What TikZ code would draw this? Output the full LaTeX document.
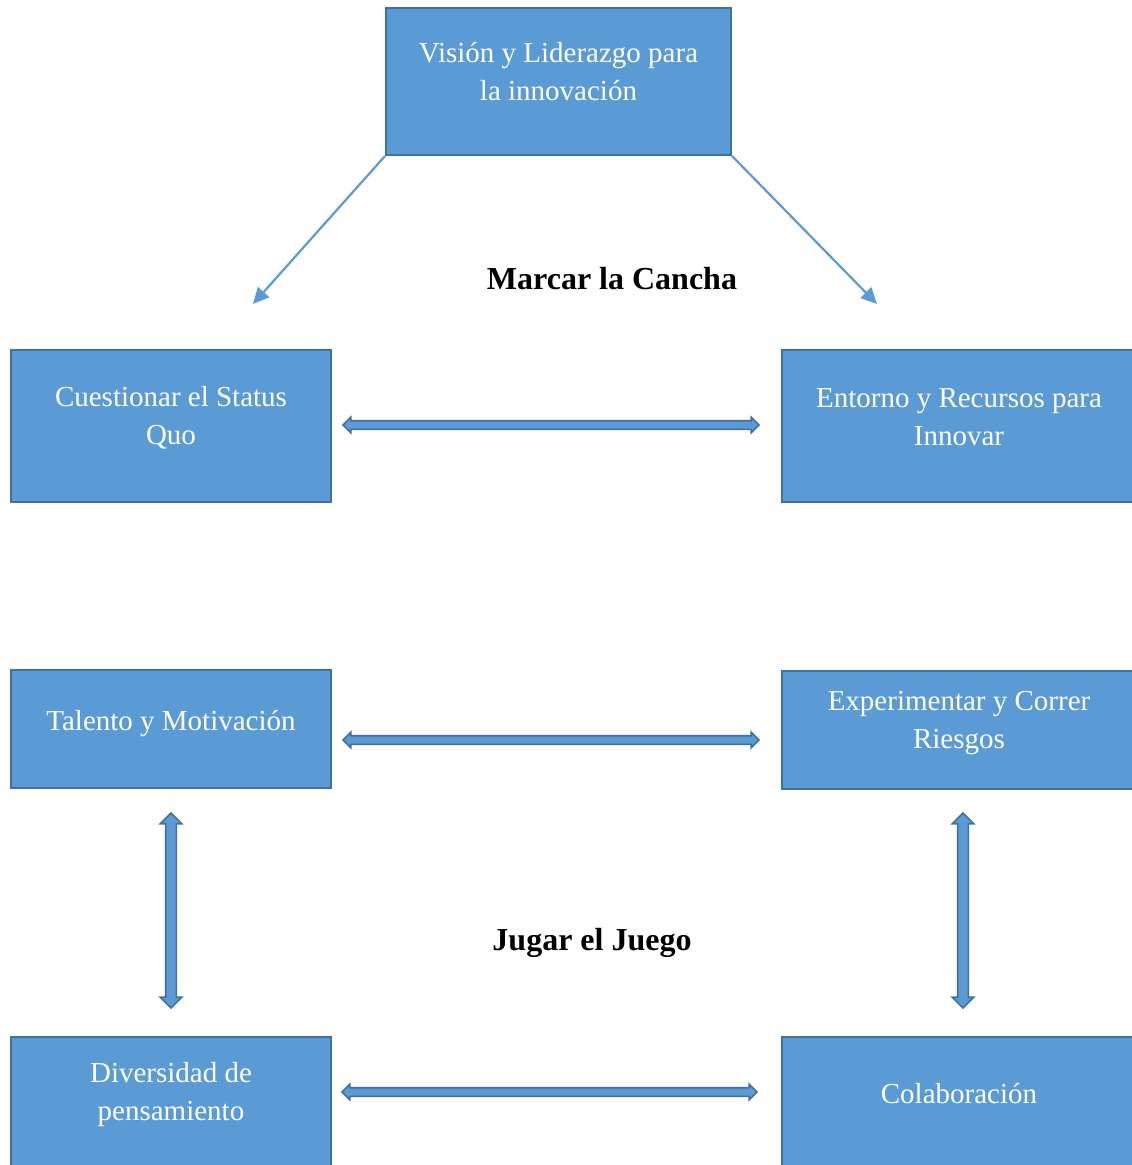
\documentclass[tikz,border=0pt]{standalone}
\usepackage{fontspec}
\setmainfont{Liberation Serif}
\usetikzlibrary{shapes.arrows,arrows.meta}
\definecolor{boxfill}{HTML}{5B9BD5}
\definecolor{boxedge}{HTML}{41719C}
\definecolor{linkblue}{HTML}{5B9BD5}
\begin{document}
\begin{tikzpicture}[x=1pt,y=-1pt,
  box/.style={draw=boxedge, fill=boxfill, line width=2pt, inner sep=0pt},
  boxtext/.style={text=white, align=center, inner sep=0pt, font=\fontsize{29}{38}\selectfont},
  heading/.style={inner sep=0pt, font=\fontsize{32}{36}\selectfont\bfseries},
  link/.style={draw=linkblue, line width=2.2pt, -{Triangle[length=16pt,width=15pt]}},
  harrow/.style={double arrow, draw=boxedge, fill=boxfill, line width=1.6pt,
    inner sep=3.5pt, double arrow head extend=3.5pt, minimum width=14pt, minimum height=416pt},
  varrow/.style={double arrow, rotate=90, draw=boxedge, fill=boxfill, line width=1.6pt,
    inner sep=4.5pt, double arrow head extend=5.5pt, minimum width=20pt, minimum height=195pt},
]
\useasboundingbox (0,0) rectangle (1132,1165);

% boxes
\node[box, minimum width=345pt, minimum height=147pt] (top) at (558.5,81.5) {};
\node[box, minimum width=320pt, minimum height=152pt] (cq) at (171,426) {};
\node[box, minimum width=352pt, minimum height=152pt] (er) at (958,426) {};
\node[box, minimum width=320pt, minimum height=118pt] (tm) at (171,729) {};
\node[box, minimum width=352pt, minimum height=118pt] (ex) at (958,730) {};
\node[box, minimum width=320pt, minimum height=143pt] (dv) at (171,1108.5) {};
\node[box, minimum width=352pt, minimum height=143pt] (co) at (958,1108.5) {};

% box labels
\node[boxtext] (toptxt) at (558.5,72) {Visión y Liderazgo para\\la innovación};
\node[boxtext] (cqtxt) at (171,418) {Cuestionar el Status\\Quo};
\node[boxtext] (ertxt) at (959,417) {Entorno y Recursos para\\Innovar};
\node[boxtext] (tmtxt) at (171,724) {Talento y Motivación};
\node[boxtext] (extxt) at (959,723) {Experimentar y Correr\\Riesgos};
\node[boxtext] (dvtxt) at (171,1095) {Diversidad de\\pensamiento};
\node[boxtext] (cotxt) at (959,1094) {Colaboración};

% section headings
\node[heading] (h1) at (612,279) {Marcar la Cancha};
\node[heading] (h2) at (592,943) {Jugar el Juego};

% links from the top box
\coordinate (lt) at (253,304);
\coordinate (rt) at (877,304);
\draw[link] (top.south west) -- (lt);
\draw[link] (top.south east) -- (rt);

% two-way block arrows
\node[harrow] (a1) at (551,425) {};
\node[harrow] (a2) at (551,740) {};
\node[harrow, minimum height=415pt] (a3) at (549.5,1092) {};
\node[varrow] (a4) at (171,910.5) {};
\node[varrow] (a5) at (963,910.5) {};
\end{tikzpicture}
\end{document}
